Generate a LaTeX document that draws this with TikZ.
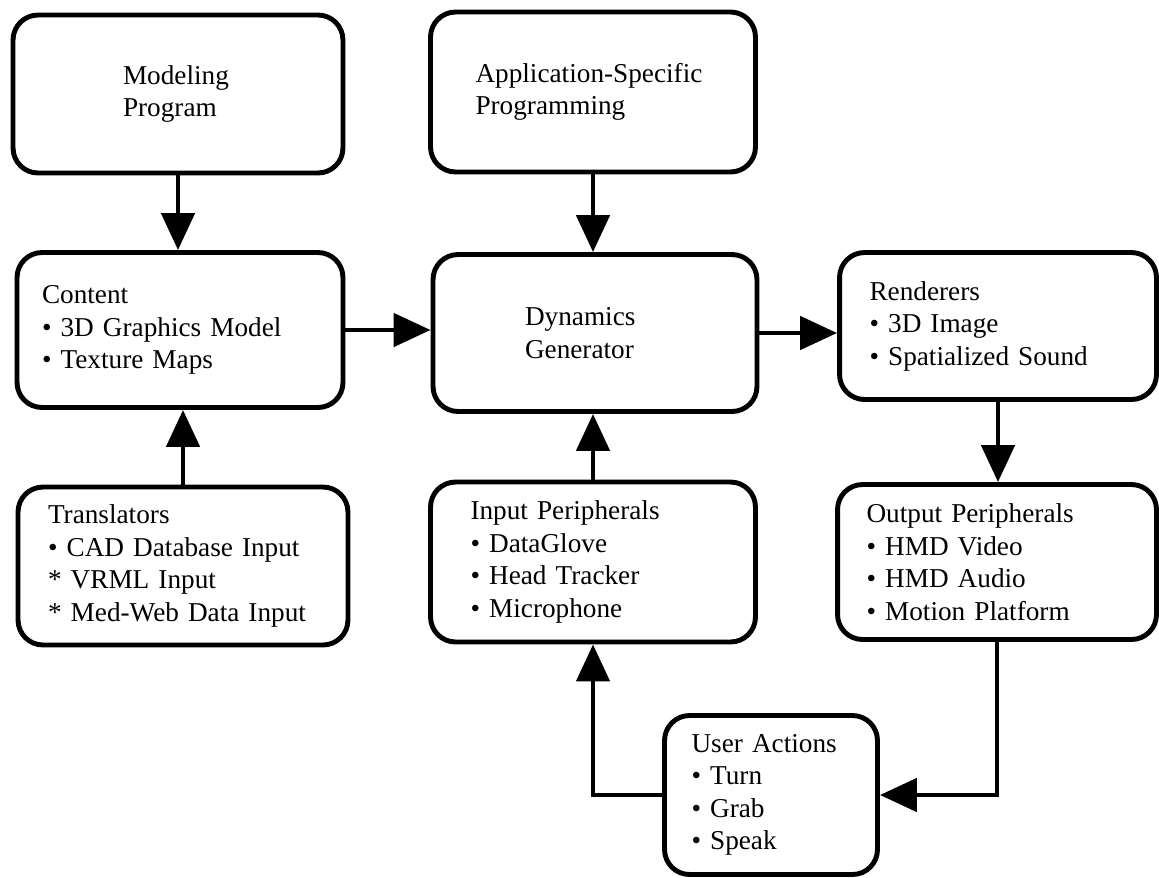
\documentclass[tikz,border=0pt]{standalone}
\usepackage{fontspec}
\setmainfont[WordSpace=0.75]{Liberation Serif}
\usetikzlibrary{arrows.meta,calc}

\tikzset{
	blk/.style={draw, line width=2.8pt, rounded corners=0.5cm, align=left, inner ysep=0pt, font=\fontsize{15.5}{18.5}\selectfont},
	arr/.style={line width=2.8pt, -{Triangle[length=0.74cm,width=0.66cm]}}
}

\begin{document}
\begin{tikzpicture}[x=0.02cm, y=-0.02cm]
	\useasboundingbox (0,0) rectangle (1159,877);
	\node [blk, minimum height=3.16cm, text width=2.2cm, inner xsep=2.2cm] (model) at (178,94) {Modeling\\Program};
	\node [blk, minimum height=3.2cm, text width=4.7cm, inner xsep=0.9cm] (app) at (593,92) {Application-Specific\\Programming};
	\node [blk, minimum height=3.1cm, text width=5.52cm, inner xsep=0.5cm] (content) at (180,330) {Content\\• 3D Graphics Model\\• Texture Maps};
	\node [blk, minimum height=3.14cm, text width=2.8cm, inner xsep=1.84cm] (dyn) at (595,333) {Dynamics\\Generator};
	\node [blk, minimum height=2.94cm, text width=5.14cm, inner xsep=0.6cm] (rend) at (998,326) {Renderers\\• 3D Image\\• Spatialized Sound};
	\node [blk, minimum height=3.16cm, text width=5.4cm, inner xsep=0.6cm] (trans) at (183,566) {Translators\\• CAD Database Input\\{*} VRML Input\\{*} Med-Web Data Input};
	\node [blk, minimum height=3.2cm, text width=4.9cm, inner xsep=0.8cm] (input) at (593,562) {Input Peripherals\\• DataGlove\\• Head Tracker\\• Microphone};
	\node [blk, minimum height=3.1cm, text width=5.22cm, inner xsep=0.58cm] (output) at (997,562) {Output Peripherals\\• HMD Video\\• HMD Audio\\• Motion Platform};
	\node [blk, minimum height=3.18cm, text width=3.18cm, inner xsep=0.54cm] (user) at (771,795) {User Actions\\• Turn\\• Grab\\• Speak};

	\draw [arr] (model.south) -- (model.south |- content.north);
	\draw [arr] (app.south) -- (app.south |- dyn.north);
	\draw [arr] (trans.north) -- (trans.north |- content.south);
	\draw [arr] (content.east) -- (content.east -| dyn.west);
	\draw [arr] (input.north) -- (input.north |- dyn.south);
	\draw [arr] (dyn.east) -- (dyn.east -| rend.west);
	\draw [arr] (rend.south) -- (rend.south |- output.north);
	\draw [arr] (output.south) |- (user.east);
	\draw [arr] (user.west) -| (input.south);
\end{tikzpicture}
\end{document}
